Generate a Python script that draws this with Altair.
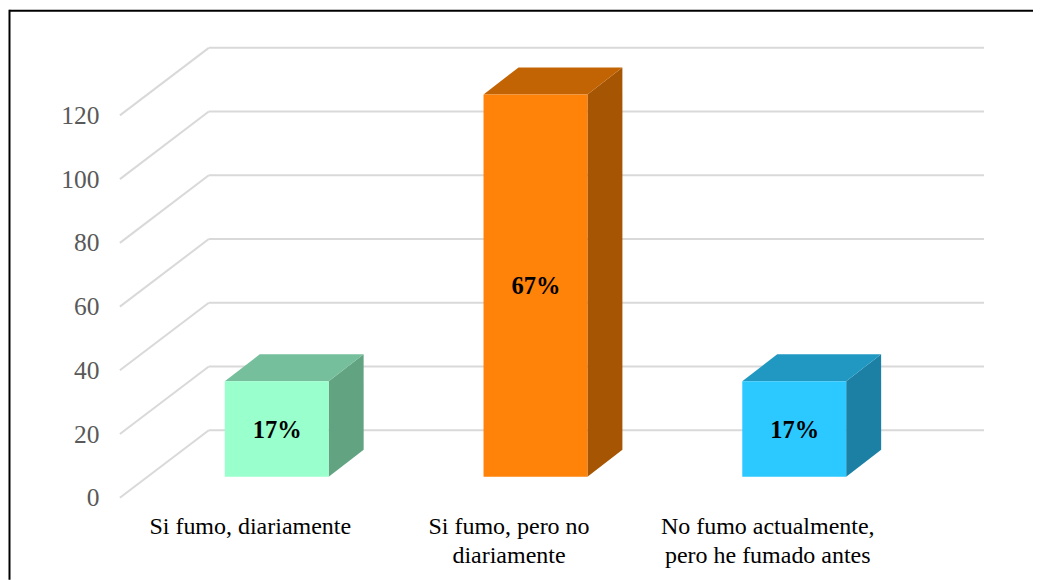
import json
import altair as alt
import pandas as pd

# ---- chart values ----
categories = [["Si fumo, diariamente"],
              ["Si fumo, pero no", "diariamente"],
              ["No fumo actualmente,", "pero he fumado antes"]]
values = [30, 120, 30]
percents = [17, 67, 17]
y_ticks = [0, 20, 40, 60, 80, 100, 120]

# ---- colours ----
front_colors = ["#99FFCC", "#FF8209", "#2BC9FF"]
top_colors = ["#75BF9C", "#C26404", "#2198C2"]
side_colors = ["#62A382", "#A65502", "#1C80A4"]
grid_color = "#D9D9D9"

# ---- layout ----
W, H = 1026, 572
PX_X = 259.0            # px per category
PX_Y = 3.19             # px per value unit
X0_PX = 277 - 8         # centre of the first bar, from plot's left
Y0_PX = 498 - 8         # value 0 (front), from plot's top
x_dom = [-X0_PX / PX_X, (W - X0_PX) / PX_X]
y_dom = [-(H - Y0_PX) / PX_Y, Y0_PX / PX_Y]
bar_w = 104 / PX_X
bar_dx = 35 / PX_X
bar_dy = 27 / PX_Y
base = 21 / PX_Y
wall_l = (120 - 277) / PX_X
wall_b = (209 - 277) / PX_X
wall_r = (985 - 277) / PX_X
wall_dy = 67.6 / PX_Y

serif = "Liberation Serif"
axis_labels = json.dumps(categories, ensure_ascii=False)
x_axis = alt.Axis(
    values=list(range(len(values))), title=None, orient="bottom", offset=-(H - (515 - 8)),
    ticks=False, domain=False, grid=False,
    labelExpr=f"{axis_labels}[datum.value]", labelFont=serif, labelFontSize=24, labelColor="#000000",
    labelOffset=-27, labelPadding=0, labelBaseline="top", labelLineHeight=29, labelAngle=0, labelFlush=False,
    labelOverlap=False, labelLimit=500)
y_axis = alt.Axis(
    values=y_ticks, title=None, orient="left", offset=-(99 - 8), ticks=False, domain=False, grid=False,
    labelFont=serif, labelFontSize=25.5, labelColor="#595959", labelPadding=0, labelFlush=False, labelOverlap=False)

x_scale = alt.Scale(domain=x_dom, nice=False, zero=False)
y_scale = alt.Scale(domain=y_dom, nice=False, zero=False)
X = alt.X("x:Q", scale=x_scale, axis=x_axis)
Y = alt.Y("y:Q", scale=y_scale, axis=y_axis)

# ---- tables ----
diag = pd.DataFrame([{"x": wall_l, "x2": wall_b, "y": t, "y2": t + wall_dy} for t in y_ticks])
back = pd.DataFrame([{"x": wall_b, "x2": wall_r, "y": t + wall_dy, "y2": t + wall_dy} for t in y_ticks])
grid = pd.concat([diag, back])

front_rows, top_rows, side_rows, label_rows = [], [], [], []
for i, v in enumerate(values):
    L, R = i - bar_w / 2, i + bar_w / 2
    T = base + v
    name = str(i)
    front_rows.append({"c": name, "x": L, "x2": R, "y": base, "y2": T})
    for x, y, y2 in [(L, T, T), (L + bar_dx, T + bar_dy, T), (R, T + bar_dy, T), (R + bar_dx, T + bar_dy, T + bar_dy)]:
        top_rows.append({"c": name, "x": x, "y": y, "y2": y2})
    for x, y, y2 in [(R, T, base), (R + bar_dx, T + bar_dy, base + bar_dy)]:
        side_rows.append({"c": name, "x": x, "y": y, "y2": y2})
    label_rows.append({"x": i, "y": base + v / 2, "t": f"{percents[i]}%"})

names = [str(i) for i in range(len(values))]


def fills(colors):
    return alt.Color("c:N", scale=alt.Scale(domain=names, range=colors), legend=None)


frame = alt.Chart(pd.DataFrame([
    {"x": x_dom[0] + 1.5 / PX_X, "x2": x_dom[1], "y": y_dom[1] - 2.5 / PX_Y, "y2": y_dom[1] - 2.5 / PX_Y},
    {"x": x_dom[0] + 1.5 / PX_X, "x2": x_dom[0] + 1.5 / PX_X, "y": y_dom[1] - 1.5 / PX_Y, "y2": y_dom[0]},
])).mark_rule(color="#000000", strokeWidth=2).encode(X, alt.X2("x2:Q"), Y, alt.Y2("y2:Q"))

grid_layer = alt.Chart(grid).mark_rule(color=grid_color, strokeWidth=2).encode(X, alt.X2("x2:Q"), Y, alt.Y2("y2:Q"))

side = alt.Chart(pd.DataFrame(side_rows)).mark_area(interpolate="linear", line=False).encode(
    X, Y, alt.Y2("y2:Q"), fills(side_colors))
top = alt.Chart(pd.DataFrame(top_rows)).mark_area(interpolate="linear", line=False).encode(
    X, Y, alt.Y2("y2:Q"), fills(top_colors))
front = alt.Chart(pd.DataFrame(front_rows)).mark_rect().encode(
    X, alt.X2("x2:Q"), Y, alt.Y2("y2:Q"), fills(front_colors))
labels = alt.Chart(pd.DataFrame(label_rows)).mark_text(
    font=serif, fontSize=24.5, fontWeight="bold", color="#000000", align="center", baseline="middle", dx=0.5, dy=1.5
).encode(X, Y, text="t:N")

chart = (
    alt.layer(frame, grid_layer, side, top, front, labels)
    .resolve_scale(color="independent")
    .properties(width=W, height=H, padding=0, background="#FFFFFF")
    .configure_view(stroke=None)
)
chart.save("out.html", embed_options={"renderer": "svg", "actions": False})
